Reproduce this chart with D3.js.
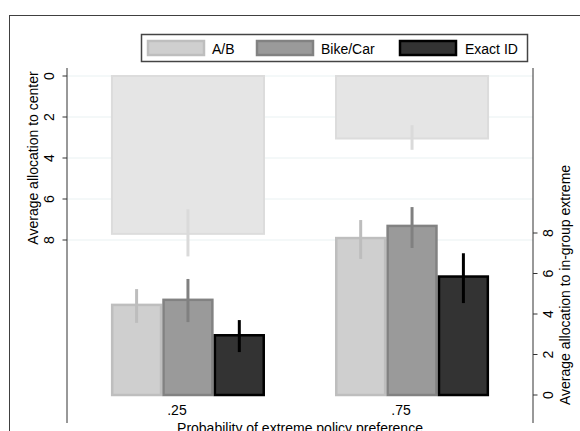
<!DOCTYPE html>
<html><head><meta charset="utf-8">
<script src="https://cdn.jsdelivr.net/npm/d3@7"></script>
<style>
html,body{margin:0;padding:0;background:#fff;}
svg text{font-family:"Liberation Sans",Arial,Helvetica,sans-serif;font-size:14px;fill:#000;}
</style></head>
<body>
<svg id="chart" width="580" height="431"></svg>
<script>
// ---- data ----
const categories = [".25", ".75"];
const series = ["A/B", "Bike/Car", "Exact ID"];
// upper (inverted) axis: average allocation to center
const centerMean = [7.7, 3.05];
const centerLo = [6.5, 2.4];
const centerHi = [8.8, 3.6];
// lower axis: average allocation to in-group extreme
const abMean = [4.45, 7.75];
const abLo = [3.56, 6.72];
const abHi = [5.23, 8.64];
const bikeMean = [4.7, 8.35];
const bikeLo = [3.6, 7.26];
const bikeHi = [5.73, 9.28];
const exactMean = [2.95, 5.85];
const exactLo = [2.12, 4.54];
const exactHi = [3.7, 7.0];
const leftTicks = [0, 2, 4, 6, 8];
const rightTicks = [0, 2, 4, 6, 8];

const seriesData = [
  {name: series[0], mean: abMean, lo: abLo, hi: abHi, fill: "#cfcfcf", stroke: "#bebebe", err: "#bdbdbd"},
  {name: series[1], mean: bikeMean, lo: bikeLo, hi: bikeHi, fill: "#9a9a9a", stroke: "#828282", err: "#808080"},
  {name: series[2], mean: exactMean, lo: exactLo, hi: exactHi, fill: "#333333", stroke: "#000000", err: "#000000"}
];

const svg = d3.select("#chart");

// outer frame
svg.append("rect").attr("x", 9.5).attr("y", 15.5).attr("width", 700).attr("height", 600)
  .attr("fill", "none").attr("stroke", "#404040").attr("stroke-width", 1);

const plotL = 67, plotR = 533, plotT = 68, plotB = 423;

const x = d3.scaleBand().domain(categories).range([plotL, plotR])
  .paddingInner(0.3125).paddingOuter(0.196);
const xs = d3.scaleBand().domain(series).range([0, x.bandwidth()]);
const yL = d3.scaleLinear().domain([0, 8]).range([76, 240]);
const yR = d3.scaleLinear().domain([0, 8]).range([395, 233]);

// gridlines (left axis)
svg.append("g").selectAll("line").data(leftTicks).join("line")
  .attr("x1", plotL).attr("x2", plotR)
  .attr("y1", d => yL(d)).attr("y2", d => yL(d))
  .attr("stroke", "#e9f1f2").attr("stroke-width", 1);

// upper bars (center allocation)
const up = svg.append("g");
up.selectAll("rect").data(categories).join("rect")
  .attr("x", d => x(d) + 1)
  .attr("y", yL(0))
  .attr("width", x.bandwidth() - 2)
  .attr("height", (d, i) => yL(centerMean[i]) - yL(0))
  .attr("fill", "#e5e5e5").attr("stroke", "#dcdcdc").attr("stroke-width", 2);
up.selectAll("line").data(categories).join("line")
  .attr("x1", d => x(d) + x.bandwidth() / 2).attr("x2", d => x(d) + x.bandwidth() / 2)
  .attr("y1", (d, i) => yL(centerLo[i])).attr("y2", (d, i) => yL(centerHi[i]))
  .attr("stroke", "#dadada").attr("stroke-width", 3);

// lower bars
seriesData.forEach(s => {
  const g = svg.append("g");
  g.selectAll("rect").data(categories).join("rect")
    .attr("x", d => x(d) + xs(s.name) + 1.25)
    .attr("y", (d, i) => yR(s.mean[i]))
    .attr("width", xs.bandwidth() - 2.5)
    .attr("height", (d, i) => yR(0) - yR(s.mean[i]))
    .attr("fill", s.fill).attr("stroke", s.stroke).attr("stroke-width", 2.5);
});
seriesData.forEach(s => {
  const g = svg.append("g");
  g.selectAll("line").data(categories).join("line")
    .attr("x1", d => x(d) + xs(s.name) + xs.bandwidth() / 2)
    .attr("x2", d => x(d) + xs(s.name) + xs.bandwidth() / 2)
    .attr("y1", (d, i) => yR(s.lo[i])).attr("y2", (d, i) => yR(s.hi[i]))
    .attr("stroke", s.err).attr("stroke-width", 3);
});

// left axis
const gl = svg.append("g");
gl.append("line").attr("x1", plotL).attr("x2", plotL).attr("y1", plotT).attr("y2", plotB)
  .attr("stroke", "#333").attr("stroke-width", 1);
gl.selectAll("line.t").data(leftTicks).join("line").attr("class", "t")
  .attr("x1", plotL - 4.5).attr("x2", plotL).attr("y1", d => yL(d)).attr("y2", d => yL(d))
  .attr("stroke", "#333");
gl.selectAll("text").data(leftTicks).join("text")
  .attr("transform", d => `translate(54,${yL(d)}) rotate(-90)`)
  .attr("text-anchor", "middle").text(d => d);
svg.append("text").attr("transform", `translate(38,${(yL(0) + yL(8)) / 2}) rotate(-90)`)
  .attr("text-anchor", "middle").text("Average allocation to center");

// right axis
const gr = svg.append("g");
gr.append("line").attr("x1", plotR).attr("x2", plotR).attr("y1", plotT).attr("y2", plotB)
  .attr("stroke", "#333").attr("stroke-width", 1);
gr.selectAll("line.t").data(rightTicks).join("line").attr("class", "t")
  .attr("x1", plotR).attr("x2", plotR + 4.5).attr("y1", d => yR(d)).attr("y2", d => yR(d))
  .attr("stroke", "#333");
gr.selectAll("text").data(rightTicks).join("text")
  .attr("transform", d => `translate(553,${yR(d)}) rotate(-90)`)
  .attr("text-anchor", "middle").text(d => d);
svg.append("text").attr("transform", `translate(570,285) rotate(-90)`)
  .attr("text-anchor", "middle").text("Average allocation to in-group extreme");

// x labels
svg.append("g").selectAll("text").data(categories).join("text")
  .attr("x", d => x(d) + x.bandwidth() / 2 - 11).attr("y", 415)
  .attr("text-anchor", "middle").text(d => d);
svg.append("text").attr("x", (plotL + plotR) / 2).attr("y", 433)
  .attr("text-anchor", "middle").text("Probability of extreme policy preference");

// legend
const lg = svg.append("g");
lg.append("rect").attr("x", 141.5).attr("y", 34.5).attr("width", 386).attr("height", 27)
  .attr("fill", "#fff").attr("stroke", "#444").attr("stroke-width", 1.5);
const swX = [147, 256, 399];
const txX = [212, 321, 465];
seriesData.forEach((s, i) => {
  lg.append("rect").attr("x", swX[i] + 1).attr("y", 41).attr("width", 56).attr("height", 14)
    .attr("fill", s.fill).attr("stroke", s.stroke).attr("stroke-width", 2.5);
  lg.append("text").attr("x", txX[i]).attr("y", 54).text(s.name);
});
</script>
</body></html>
